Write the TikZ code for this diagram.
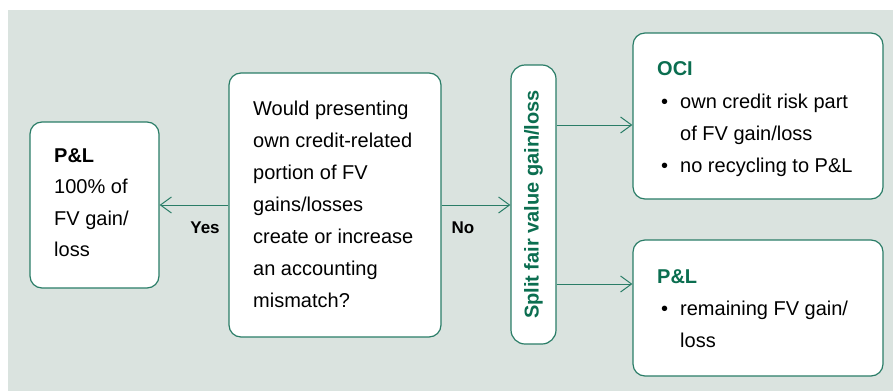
\documentclass[tikz,border=0pt]{standalone}
\usepackage{fontspec}
\setmainfont{Liberation Sans}
\usetikzlibrary{arrows.meta}
\definecolor{bg}{HTML}{DAE3DF}
\definecolor{frame}{HTML}{2A7D67}
\definecolor{dgreen}{HTML}{0B6E50}
\begin{document}
\begin{tikzpicture}[x=1pt,y=-1pt,
  box/.style={draw=frame, line width=1.2pt, fill=white, rounded corners=12pt, inner sep=0pt},
  txt/.style={anchor=base west, align=left, inner sep=0pt, font=\fontsize{20}{32}\selectfont},
  ttl/.style={anchor=base west, inner sep=0pt, text=dgreen, font=\fontsize{20}{32}\selectfont\bfseries},
  lbl/.style={anchor=base, inner sep=0pt, font=\fontsize{17}{20}\selectfont\bfseries},
  bul/.style={anchor=base west, inner sep=0pt, font=\fontsize{20}{32}\selectfont},
  arr/.style={draw=frame, line width=1pt, -{Straight Barb[length=11pt,width=16pt,line width=1pt]}}
]
\useasboundingbox (0,0) rectangle (893,391);
\fill[bg] (8,10) rectangle (893,391);

% boxes
\node[box, minimum width=129pt, minimum height=166pt] (pl1) at (94.5,205) {};
\node[box, minimum width=212pt, minimum height=264pt] (q) at (335,205) {};
\node[box, rounded corners=14pt, minimum width=45pt, minimum height=279pt] (split) at (533.5,204.5) {};
\node[box, minimum width=250pt, minimum height=166pt] (oci) at (758,116) {};
\node[box, minimum width=250pt, minimum height=136pt] (pl2) at (758,308) {};

% texts (anchored at the baseline of their last line)
\node[txt, font=\fontsize{20}{31.5}\selectfont] (pl1t) at (54,256.5) {\textbf{P\&L}\\100\% of\\FV gain/\\loss};
\node[txt] (qt) at (253,307) {Would presenting\\own credit-related\\portion of FV\\gains/losses\\create or increase\\an accounting\\mismatch?};
\node[rotate=90, inner sep=0pt, text=dgreen, font=\fontsize{20}{24}\selectfont\bfseries] (splitt) at (split.center) {Split fair value gain/loss};

\node[ttl] (ocit) at (657,75) {OCI};
\node[bul] (ob1) at (661,108) {\textbullet};
\node[bul] (ob2) at (661,172) {\textbullet};
\node[txt] (ocix) at (680,172) {own credit risk part\\of FV gain/loss\\no recycling to P\&L};

\node[ttl] (pl2t) at (657,283) {P\&L};
\node[bul] (pb1) at (661,315) {\textbullet};
\node[txt] (pl2x) at (680,347) {remaining FV gain/\\loss};

% connectors
\draw[arr] (q.west) -- (pl1.east);
\draw[arr] (q.east) -- (split.west |- q.east);
\draw[arr] (split.east |- 0,125) -- (oci.west |- 0,125);
\draw[arr] (split.east |- 0,284) -- (pl2.west |- 0,284);

\node[lbl] (yes) at (205,233) {Yes};
\node[lbl] (no) at (463,233) {No};
\end{tikzpicture}
\end{document}
